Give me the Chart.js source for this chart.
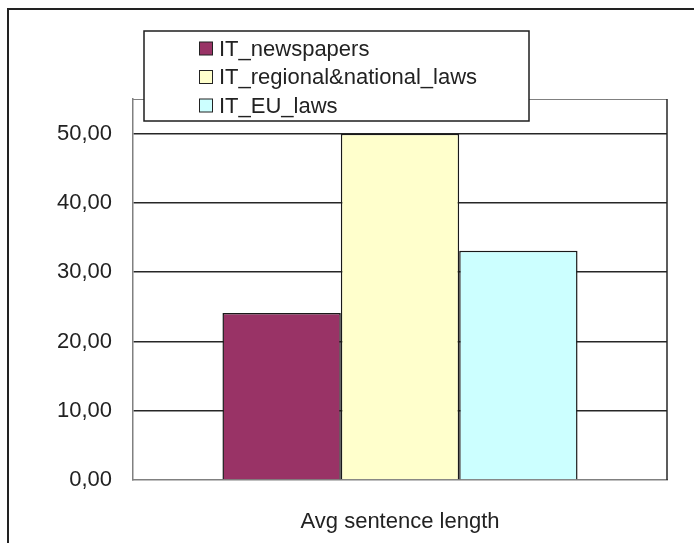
<!DOCTYPE html>
<html>
<head>
<meta charset="utf-8">
<script src="https://cdn.jsdelivr.net/npm/chart.js@4/dist/chart.umd.min.js"></script>
<style>
  html, body { margin: 0; padding: 0; background: #fff; }
  canvas { display: block; }
</style>
</head>
<body>
<canvas id="sentenceChart" width="694" height="543"></canvas>
<script>
// sentence length data
const categories = ['Avg sentence length'];
const seriesNames = ['IT_newspapers', 'IT_regional&national_laws', 'IT_EU_laws'];
const newspapers = [24.1];
const regionalNationalLaws = [50.0];
const euLaws = [33.1];
const yTickValues = [0, 10, 20, 30, 40, 50];

const FONT = '"Liberation Sans", Arial, sans-serif';
const TEXT = '#222222';

// frame of the plot area (top + right edges) and the outer page border
const framePlugin = {
    id: 'frame',
    beforeDatasetsDraw(chart) {
        const { ctx, chartArea: a } = chart;
        ctx.save();
        ctx.lineWidth = 1;
        ctx.strokeStyle = '#808080';
        ctx.beginPath();
        ctx.moveTo(a.left, a.top + 0.5);
        ctx.lineTo(a.right, a.top + 0.5);
        ctx.stroke();
        ctx.strokeStyle = '#262626';
        ctx.lineWidth = 1.5;
        ctx.beginPath();
        ctx.moveTo(a.right, a.top);
        ctx.lineTo(a.right, a.bottom);
        ctx.stroke();
        ctx.restore();
    },
    afterDraw(chart) {
        const { ctx, width, height } = chart;
        ctx.save();
        ctx.strokeStyle = '#222';
        ctx.lineWidth = 2;
        ctx.beginPath();
        ctx.moveTo(8, height);
        ctx.lineTo(8, 9);
        ctx.lineTo(width, 9);
        ctx.stroke();
        ctx.restore();
    }
};

// boxed legend sitting over the top of the plot
const boxLegend = {
    id: 'boxLegend',
    afterDraw(chart) {
        const { ctx } = chart;
        const x0 = 144, y0 = 31, w = 385, h = 90;
        ctx.save();
        ctx.fillStyle = '#fff';
        ctx.fillRect(x0, y0, w, h);
        ctx.strokeStyle = '#1e1e1e';
        ctx.lineWidth = 1.5;
        ctx.strokeRect(x0, y0, w, h);
        ctx.font = '22px ' + FONT;
        ctx.textBaseline = 'middle';
        chart.data.datasets.forEach((ds, i) => {
            const cy = 48.5 + i * 28.5;
            ctx.fillStyle = ds.backgroundColor;
            ctx.fillRect(199.5, cy - 6.5, 13, 13);
            ctx.strokeStyle = '#222';
            ctx.lineWidth = 1;
            ctx.strokeRect(199.5, cy - 6.5, 13, 13);
            ctx.fillStyle = TEXT;
            ctx.fillText(ds.label, 219, cy + 1);
        });
        ctx.restore();
    }
};

new Chart(document.getElementById('sentenceChart'), {
    type: 'bar',
    data: {
        labels: categories,
        datasets: [
            { label: seriesNames[0], data: newspapers, backgroundColor: '#993366' },
            { label: seriesNames[1], data: regionalNationalLaws, backgroundColor: '#FFFFCC' },
            { label: seriesNames[2], data: euLaws, backgroundColor: '#CCFFFF' }
        ]
    },
    options: {
        responsive: false,
        devicePixelRatio: 1,
        animation: false,
        layout: { padding: { top: 99, right: 27, left: 0, bottom: 0 } },
        datasets: {
            bar: {
                categoryPercentage: 0.665,
                barPercentage: 1,
                borderWidth: 1.5,
                borderColor: '#1a1a1a'
            }
        },
        plugins: {
            legend: { display: false },
            tooltip: { enabled: false }
        },
        scales: {
            x: {
                grid: { display: false },
                border: { display: true, color: '#808080', width: 1.5 },
                ticks: { color: TEXT, font: { family: FONT, size: 22 }, padding: 21 },
                afterFit(scale) { scale.height = 63; }
            },
            y: {
                min: 0,
                max: 55,
                ticks: {
                    stepSize: 10,
                    color: TEXT,
                    padding: 21,
                    font: { family: FONT, size: 22 },
                    callback: v => v.toFixed(2).replace('.', ',')
                },
                afterBuildTicks(scale) {
                    scale.ticks = yTickValues.map(v => ({ value: v }));
                },
                grid: {
                    drawTicks: false,
                    lineWidth: 1.5,
                    color: c => (c.tick && c.tick.value === 0) ? 'rgba(0,0,0,0)' : '#262626'
                },
                border: { display: true, color: '#808080', width: 1.5 },
                afterFit(scale) { scale.width = 133; }
            }
        }
    },
    plugins: [framePlugin, boxLegend]
});
</script>
</body>
</html>
